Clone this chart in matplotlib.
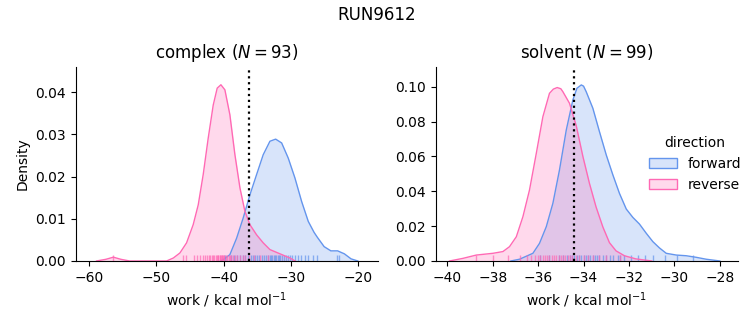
import matplotlib
matplotlib.use("Agg")
import matplotlib.pyplot as plt
from matplotlib.patches import Patch

# ---- data ----
complex_rev_x = [-58.9, -57.5, -56.4, -55.3, -54.0, -48.5, -47.5, -46.52, -45.53, -44.55, -43.8, -43.06,
                 -42.32, -41.57, -40.98, -40.43, -39.84, -39.1, -38.35, -37.6, -36.87, -36.12, -35.13,
                 -34.15, -33.15, -31.66, -30.18, -29.4]
complex_rev_y = [0.0, 0.0004, 0.0009, 0.0004, 0.0, 0.0, 0.0007, 0.0019, 0.0043, 0.0086, 0.0133, 0.0205,
                 0.0291, 0.037, 0.041, 0.0418, 0.0406, 0.0347, 0.0252, 0.0173, 0.0118, 0.0086, 0.0062,
                 0.0043, 0.0027, 0.0017, 0.0007, 0.0]
complex_fwd_x = [-40.5, -40.0, -39.1, -38.1, -37.12, -36.12, -35.13, -34.15, -33.15, -32.3, -31.41, -30.43,
                 -29.44, -28.44, -27.46, -26.6, -26.1, -25.1, -24.1, -23.1, -22.1, -21.1, -20.1]
complex_fwd_y = [0.0, 0.0004, 0.0015, 0.0054, 0.0102, 0.0157, 0.0205, 0.0252, 0.0284, 0.0289, 0.028, 0.0244,
                 0.0197, 0.0141, 0.0094, 0.0068, 0.0056, 0.0034, 0.0024, 0.0024, 0.0017, 0.0005, 0.0]

solvent_rev_x = [-39.9, -39.31, -38.72, -37.99, -37.55, -37.26, -36.96, -36.67, -36.38, -36.08, -35.79, -35.5,
                 -35.33, -35.16, -35.0, -34.91, -34.62, -34.32, -34.03, -33.74, -33.45, -33.15, -32.86, -32.57,
                 -32.2, -31.7, -31.0]
solvent_rev_y = [0.0, 0.0015, 0.0034, 0.0044, 0.0054, 0.0082, 0.0139, 0.0254, 0.0407, 0.0618, 0.0828, 0.0962,
                 0.0986, 0.0995, 0.0988, 0.0971, 0.0905, 0.0775, 0.0600, 0.0445, 0.0310, 0.0195, 0.0105, 0.0058,
                 0.0030, 0.0012, 0.0]
solvent_fwd_x = [-37.2, -36.82, -36.23, -35.94, -35.64, -35.35, -35.06, -34.76, -34.47, -34.29, -34.1, -34.0,
                 -33.88, -33.59, -33.3, -33.0, -32.71, -32.42, -32.12, -31.83, -31.54, -31.24, -30.95, -30.66,
                 -30.36, -29.92, -29.48, -29.04, -28.6, -28.0]
solvent_fwd_y = [0.0, 0.001, 0.0044, 0.0101, 0.0197, 0.0331, 0.0522, 0.0752, 0.0924, 0.0991, 0.101, 0.1003,
                 0.097, 0.0876, 0.0742, 0.0608, 0.0494, 0.0388, 0.0298, 0.025, 0.0212, 0.0159, 0.0111, 0.0075,
                 0.0044, 0.0034, 0.003, 0.0021, 0.001, 0.0]

complex_rev_rug = [-56.4, -46.0, -45.6, -44.5, -44.0, -43.6, -43.1, -42.8, -42.5, -42.2, -42.0, -41.8, -41.6,
                   -41.4, -41.2, -41.0, -40.9, -40.8, -40.6, -40.5, -40.4, -40.3, -40.2, -40.1, -40.0, -39.9,
                   -39.7, -39.5, -39.3, -39.1, -38.9, -38.6, -38.3, -38.0, -37.6, -37.2, -36.8, -36.2, -35.5,
                   -34.6, -33.5]
complex_fwd_rug = [-39.8, -39.0, -38.5, -38.0, -37.6, -37.2, -36.8, -36.4, -36.0, -35.6, -35.3, -35.0, -34.7,
                   -34.4, -34.1, -33.8, -33.5, -33.2, -33.0, -32.8, -32.6, -32.4, -32.2, -32.0, -31.8, -31.6,
                   -31.4, -31.1, -30.8, -30.5, -30.2, -29.8, -29.4, -29.0, -28.6, -28.0, -27.5, -26.8, -26.2,
                   -23.2, -22.9]
solvent_rev_rug = [-38.72, -37.99, -37.33, -36.8, -36.5, -36.3, -36.15, -36.0, -35.9, -35.8, -35.7, -35.6,
                   -35.5, -35.4, -35.3, -35.2, -35.1, -35.0, -34.9, -34.8, -34.7, -34.6, -34.5, -34.35, -34.2,
                   -34.0, -33.8, -33.6, -33.3, -33.0, -32.4]
solvent_fwd_rug = [-35.9, -35.5, -35.06, -34.9, -34.75, -34.6, -34.5, -34.4, -34.3, -34.2, -34.1, -34.0, -33.9,
                   -33.8, -33.7, -33.6, -33.5, -33.4, -33.3, -33.15, -33.0, -32.85, -32.7, -32.5, -32.4, -32.2,
                   -31.9, -31.6, -31.3, -30.95, -30.4, -29.9, -29.2]

complex_mark = -36.33
solvent_mark = -34.41

panel_titles = ["complex ($N = 93$)", "solvent ($N = 99$)"]
directions = ["forward", "reverse"]
colors = {"forward": "cornflowerblue", "reverse": "hotpink"}

# ---- figure ----
fig = plt.figure(figsize=(7.53, 3.25), dpi=100)
ax1 = fig.add_axes([0.1005, 0.197, 0.4015, 0.598])
ax2 = fig.add_axes([0.5786, 0.197, 0.4015, 0.598])

panels = [
    (ax1, {"forward": (complex_fwd_x, complex_fwd_y, complex_fwd_rug),
           "reverse": (complex_rev_x, complex_rev_y, complex_rev_rug)}, complex_mark, (-62.0, -17.1), (0, 0.0461)),
    (ax2, {"forward": (solvent_fwd_x, solvent_fwd_y, solvent_fwd_rug),
           "reverse": (solvent_rev_x, solvent_rev_y, solvent_rev_rug)}, solvent_mark, (-40.51, -27.2), (0, 0.1115)),
]

for (ax, series, mark, xl, yl), title in zip(panels, panel_titles):
    for d in directions:
        xs, ys, rug = series[d]
        c = colors[d]
        ax.fill_between(xs, ys, 0, color=c, alpha=0.25, lw=0)
        ax.plot(xs, ys, color=c, lw=1.0, solid_joinstyle="round")
        ax.vlines(rug, 0, 0.03, transform=ax.get_xaxis_transform(), color=c, alpha=0.7, lw=1.0)
    ax.axvline(mark, color="black", ls=":", lw=1.6)
    ax.set_xlim(*xl)
    ax.set_ylim(*yl)
    ax.set_title(title, fontsize=12)
    ax.set_xlabel("work / kcal mol$^{-1}$")
    ax.spines["top"].set_visible(False)
    ax.spines["right"].set_visible(False)

ax1.set_ylabel("Density")
ax1.set_xticks([-60, -50, -40, -30, -20])
ax2.set_xticks([-40, -38, -36, -34, -32, -30, -28])
ax1.set_yticks([0.0, 0.01, 0.02, 0.03, 0.04])
ax2.set_yticks([0.0, 0.02, 0.04, 0.06, 0.08, 0.10])
ax1.yaxis.set_major_formatter(matplotlib.ticker.FormatStrFormatter("%.2f"))
ax2.yaxis.set_major_formatter(matplotlib.ticker.FormatStrFormatter("%.2f"))

handles = [Patch(facecolor=matplotlib.colors.to_rgba(colors[d], 0.25), edgecolor=colors[d], lw=1.0)
           for d in directions]
ax2.legend(handles, directions, title="direction", loc="center left",
           bbox_to_anchor=(0.664, 0.5), frameon=False)

fig.suptitle("RUN9612", fontsize=12)
fig.savefig("out.png", dpi=100)
